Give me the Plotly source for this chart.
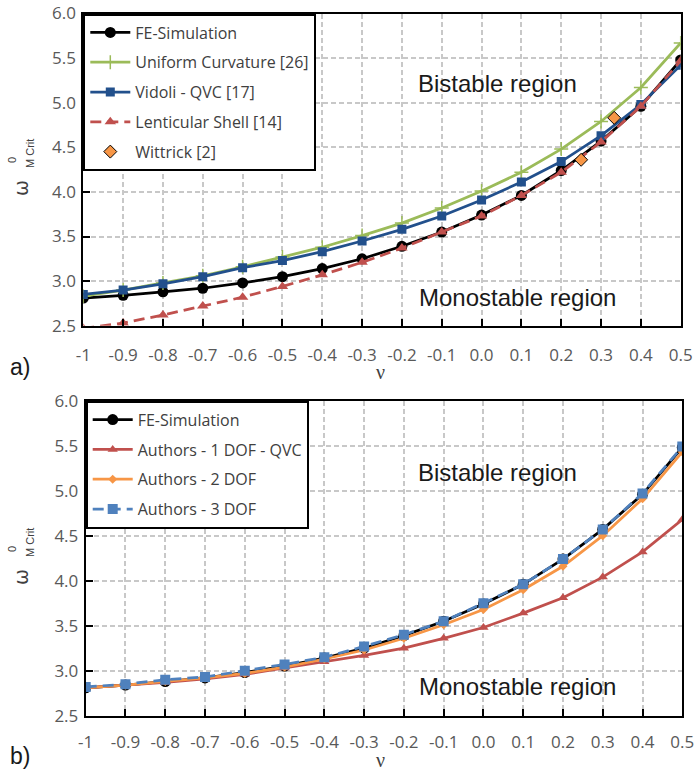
import plotly.graph_objects as go

# Poisson's ratio samples
nu = [-1.0, -0.9, -0.8, -0.7, -0.6, -0.5, -0.4, -0.3, -0.2, -0.1,
      0.0, 0.1, 0.2, 0.3, 0.4, 0.5]
nu_ticktext = ["-1", "-0.9", "-0.8", "-0.7", "-0.6", "-0.5", "-0.4", "-0.3",
               "-0.2", "-0.1", "0.0", "0.1", "0.2", "0.3", "0.4", "0.5"]

# Panel a) critical curvature, literature models
fe_sim = [2.81, 2.84, 2.88, 2.92, 2.98, 3.05, 3.14, 3.25, 3.39, 3.55,
          3.74, 3.96, 4.24, 4.57, 4.96, 5.48]
uniform_curv = [2.83, 2.90, 2.98, 3.06, 3.16, 3.27, 3.38, 3.51, 3.65, 3.82,
                4.01, 4.22, 4.48, 4.79, 5.17, 5.67]
vidoli_qvc = [2.85, 2.90, 2.97, 3.05, 3.15, 3.23, 3.33, 3.45, 3.58, 3.73,
              3.91, 4.11, 4.34, 4.63, 4.98, 5.42]
lenticular = [2.47, 2.53, 2.62, 2.72, 2.82, 2.94, 3.07, 3.21, 3.37, 3.55,
              3.73, 3.96, 4.22, 4.56, 4.96, 5.47]
wittrick_nu = [0.25, 0.333]
wittrick = [4.36, 4.83]

# Panel b) critical curvature, authors' models
dof1_qvc = [2.81, 2.84, 2.87, 2.91, 2.96, 3.03, 3.10, 3.17, 3.25, 3.36,
            3.48, 3.64, 3.81, 4.04, 4.32, 4.68]
dof2 = [2.81, 2.84, 2.88, 2.92, 2.97, 3.04, 3.13, 3.23, 3.36, 3.51,
        3.68, 3.90, 4.16, 4.50, 4.91, 5.43]
dof3 = [2.82, 2.85, 2.90, 2.93, 3.00, 3.07, 3.15, 3.27, 3.40, 3.55,
        3.75, 3.96, 4.24, 4.57, 4.97, 5.49]

y_ticks = [2.5, 3.0, 3.5, 4.0, 4.5, 5.0, 5.5, 6.0]

W, H = 695, 771


def px(x):
    return x / W


def py(y):
    return 1 - y / H


BLACK = "#000000"
GREEN = "#9bbb59"
NAVY = "#22508c"
RED = "#c0504d"
ORANGE = "#f79646"
LBLUE = "#4f81bd"
LW = 2.75

fig = go.Figure()


def add(x, y, name, color, symbol, size, xa, ya, leg, dash="solid",
        line=True, mline=None):
    fig.add_trace(go.Scatter(
        x=x, y=y, name=name, xaxis=xa, yaxis=ya, legend=leg,
        legendgroup=leg + name,
        mode="lines+markers" if line else "markers",
        line=dict(color=color, width=LW, dash=dash),
        marker=dict(symbol=symbol, size=size, color=color,
                    line=mline or dict(width=0)),
    ))


# Panel a
add(nu, fe_sim, "FE-Simulation", BLACK, "circle", 11, "x", "y", "legend")
add(nu, uniform_curv, "Uniform Curvature [26]", GREEN, "cross-thin", 10,
    "x", "y", "legend", mline=dict(color=GREEN, width=1.5))
add(nu, vidoli_qvc, "Vidoli - QVC [17]", NAVY, "square", 9, "x", "y", "legend")
add(nu, lenticular, "Lenticular Shell [14]", RED, "triangle-up", 10,
    "x", "y", "legend", dash="11px,6px")
add(wittrick_nu, wittrick, "Wittrick [2]", ORANGE, "diamond", 10, "x", "y",
    "legend", line=False, mline=dict(color=BLACK, width=1))

# Panel b
add(nu, fe_sim, "FE-Simulation", BLACK, "circle", 11, "x2", "y2", "legend2")
add(nu, dof1_qvc, "Authors - 1 DOF - QVC", RED, "triangle-up", 9,
    "x2", "y2", "legend2")
add(nu, dof2, "Authors - 2 DOF", ORANGE, "diamond", 7, "x2", "y2", "legend2")
add(nu, dof3, "Authors - 3 DOF", LBLUE, "square", 10, "x2", "y2", "legend2",
    dash="11px,6px")

tick_font = dict(family="Open Sans", size=17, color="#595959")
grid = dict(showgrid=True, gridcolor="#c8c8c8", gridwidth=1.6,
            griddash="5px,3px")
axis_common = dict(showline=True, linecolor=BLACK, linewidth=2, mirror=True,
                   ticks="inside", ticklen=7, tickwidth=2, tickcolor=BLACK,
                   zeroline=False, automargin=False, tickfont=tick_font,
                   **grid)

xa = dict(range=[-1, 0.5], tickvals=nu, ticktext=nu_ticktext, **axis_common)
yb = dict(range=[2.5, 6.0], tickvals=y_ticks, tickformat=".1f",
          ticklabelstandoff=2, **axis_common)

legend_common = dict(xanchor="left", yanchor="top", bgcolor="white",
                     bordercolor=BLACK, borderwidth=2,
                     font=dict(family="Open Sans", size=16, color="#404040"),
                     traceorder="grouped", tracegroupgap=6,
                     itemwidth=40)

fig.update_layout(
    width=W, height=H,
    margin=dict(l=0, r=0, t=0, b=0, autoexpand=False),
    paper_bgcolor="white", plot_bgcolor="white",
    xaxis=dict(domain=[px(83.3), px(680.7)], anchor="y",
               ticklabelstandoff=13, **xa),
    yaxis=dict(domain=[py(325.7), py(13.5)], anchor="x", **yb),
    xaxis2=dict(domain=[px(85.7), px(682.3)], anchor="y2",
                ticklabelstandoff=10, **xa),
    yaxis2=dict(domain=[py(715.7), py(400.7)], anchor="x2", **yb),
    legend=dict(x=px(83.3), y=py(13.5), **legend_common),
    legend2=dict(x=px(85.7), y=py(400.7), **legend_common),
    showlegend=True,
)

ann = []
text_font = dict(family="Liberation Sans", size=24, color="#1a1a1a")
for dy, tag, nu_y in [(0, "a)", 372), (389, "b)", 760)]:
    ann.append(dict(text="Bistable region", x=px(497), y=py(83 + dy),
                    font=text_font))
    ann.append(dict(text="Monostable region", x=px(517), y=py(297 + dy),
                    font=text_font))
    ann.append(dict(text=tag, x=px(20), y=py(367 + dy),
                    font=dict(family="Liberation Sans", size=23,
                              color="#1a1a1a")))
    ann.append(dict(text="ν", x=px(381), y=py(nu_y),
                    font=dict(family="Liberation Serif", size=20,
                              color="#404040"),
                    borderpad=0))
    ann.append(dict(text="ω", x=px(21), y=py(188 + dy), textangle=-90,
                    font=dict(family="DejaVu Sans", size=19,
                              color="#404040")))
    ann.append(dict(text="M Crit", x=px(30), y=py(154 + dy), textangle=-90,
                    font=dict(family="Liberation Sans", size=11,
                              color="#404040")))
    ann.append(dict(text="0", x=px(12), y=py(160 + dy), textangle=-90,
                    font=dict(family="Liberation Sans", size=11,
                              color="#404040")))
for a in ann:
    a.update(xref="paper", yref="paper", showarrow=False,
             xanchor="center", yanchor="middle")
fig.update_layout(annotations=ann)

fig.write_html("out.html")
